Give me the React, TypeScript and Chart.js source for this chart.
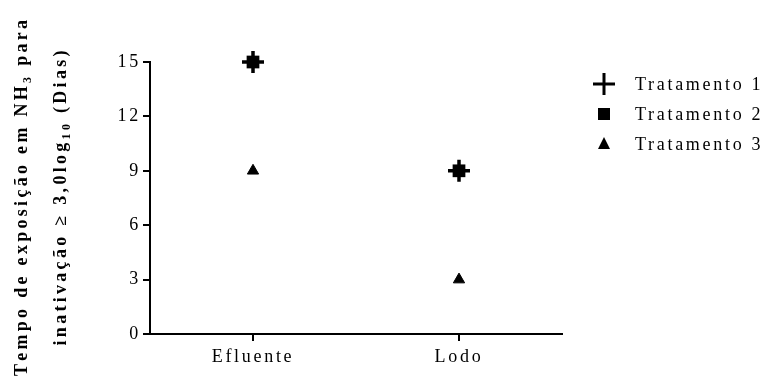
import React, { useEffect, useRef } from 'react';
import { Chart, registerables } from 'chart.js';

Chart.register(...registerables);

// Data
const categories = ['Efluente', 'Lodo'];
const seriesNames = ['Tratamento 1', 'Tratamento 2', 'Tratamento 3'];
const tratamento1 = [15, 9];
const tratamento2 = [15, 9];
const tratamento3 = [9, 3];
const yTicks = [0, 3, 6, 9, 12, 15];

// Axis title, split into runs so the subscripts can be drawn smaller and lower
const titleLine1 = [
  { text: 'Tempo de exposição em NH', sub: false },
  { text: '3', sub: true },
  { text: ' para', sub: false },
];
const titleLine2 = [
  { text: 'inativação ≥ 3,0log', sub: false },
  { text: '10', sub: true },
  { text: ' (Dias)', sub: false },
];

const FONT = '"Liberation Serif", "Times New Roman", serif';
const SPACING = 2.7;

type Run = { text: string; sub: boolean };

function runWidth(ctx: CanvasRenderingContext2D, runs: Run[], size: number, subSize: number, sp: number) {
  let w = 0;
  for (const r of runs) {
    ctx.font = `bold ${r.sub ? subSize : size}px ${FONT}`;
    for (const ch of r.text) w += ctx.measureText(ch).width + sp;
  }
  return w - sp;
}

function drawRuns(
  ctx: CanvasRenderingContext2D,
  runs: Run[],
  x: number,
  y: number,
  size: number,
  subSize: number,
  sp: number
) {
  let cx = x;
  for (const r of runs) {
    ctx.font = `bold ${r.sub ? subSize : size}px ${FONT}`;
    for (const ch of r.text) {
      ctx.fillText(ch, cx, r.sub ? y + 4 : y);
      cx += ctx.measureText(ch).width + sp;
    }
  }
}

const spacingPlugin = {
  id: 'letterSpacing',
  beforeDraw(chart: any) {
    (chart.ctx as any).letterSpacing = `${SPACING}px`;
  },
};

const titlePlugin = {
  id: 'yTitle',
  afterDraw(chart: any) {
    const ctx: CanvasRenderingContext2D = chart.ctx;
    const { top, bottom } = chart.chartArea;
    const mid = (top + bottom) / 2;
    ctx.save();
    (ctx as any).letterSpacing = '0px';
    ctx.fillStyle = '#000';
    ctx.textBaseline = 'alphabetic';
    ctx.textAlign = 'left';
    ctx.rotate(-Math.PI / 2);
    const size = 18;
    const subSize = 12;
    const sp = 3.3;
    const w1 = runWidth(ctx, titleLine1, size, subSize, sp);
    drawRuns(ctx, titleLine1, -mid - w1 / 2, 27, size, subSize, sp);
    const w2 = runWidth(ctx, titleLine2, size, subSize, sp);
    drawRuns(ctx, titleLine2, -mid - w2 / 2, 66, size, subSize, sp);
    ctx.restore();
  },
};

const legendPlugin = {
  id: 'sideLegend',
  afterDraw(chart: any) {
    const ctx: CanvasRenderingContext2D = chart.ctx;
    const mx = 604;
    const tx = 635;
    const rowY = [84, 114, 144];
    ctx.save();
    ctx.fillStyle = '#000';
    ctx.strokeStyle = '#000';
    chart.data.datasets.forEach((ds: any, i: number) => {
      const y = rowY[i];
      if (ds.pointStyle === 'cross') {
        ctx.lineWidth = 3;
        ctx.beginPath();
        ctx.moveTo(mx - 11, y);
        ctx.lineTo(mx + 11, y);
        ctx.moveTo(mx, y - 11);
        ctx.lineTo(mx, y + 11);
        ctx.stroke();
      } else if (ds.pointStyle === 'rect') {
        ctx.fillRect(mx - 6, y - 6, 12, 12);
      } else {
        ctx.beginPath();
        ctx.moveTo(mx, y - 7);
        ctx.lineTo(mx + 6, y + 5);
        ctx.lineTo(mx - 6, y + 5);
        ctx.closePath();
        ctx.fill();
      }
      (ctx as any).letterSpacing = `${SPACING}px`;
      ctx.font = `18px ${FONT}`;
      ctx.textAlign = 'left';
      ctx.textBaseline = 'middle';
      ctx.fillText(ds.label, tx, y + 1);
    });
    ctx.restore();
  },
};

export default function App() {
  const canvasRef = useRef<HTMLCanvasElement | null>(null);

  useEffect(() => {
    document.body.style.margin = '0';
    const canvas = canvasRef.current;
    if (!canvas) return;

    const pointBase = {
      backgroundColor: '#000',
      borderColor: '#000',
      showLine: false,
      clip: false as any,
    };

    const chart = new Chart(canvas, {
      type: 'line',
      data: {
        labels: categories,
        datasets: [
          {
            ...pointBase,
            label: seriesNames[0],
            data: tratamento1,
            pointStyle: 'cross',
            pointRadius: 11,
            pointBorderWidth: 3.5,
          },
          {
            ...pointBase,
            label: seriesNames[1],
            data: tratamento2,
            pointStyle: 'rect',
            pointRadius: 9,
            pointBorderWidth: 0,
          },
          {
            ...pointBase,
            label: seriesNames[2],
            data: tratamento3,
            pointStyle: 'triangle',
            pointRadius: 6.5,
            pointBorderWidth: 1,
          },
        ],
      },
      options: {
        responsive: false,
        animation: false,
        devicePixelRatio: 1,
        layout: { padding: { left: 0, top: 62, right: 208, bottom: 0 } },
        plugins: {
          legend: { display: false },
          tooltip: { enabled: false },
        },
        scales: {
          x: {
            type: 'category',
            offset: true,
            grid: {
              offset: false,
              drawOnChartArea: false,
              drawTicks: true,
              tickLength: 7,
              tickWidth: 2,
              color: '#000',
              lineWidth: 2,
            },
            border: { display: true, color: '#000', width: 2 },
            ticks: {
              color: '#000',
              font: { family: FONT, size: 18 },
              padding: 5,
              maxRotation: 0,
            },
            afterFit(scale: any) {
              scale.height = 49;
            },
          },
          y: {
            type: 'linear',
            min: 0,
            max: 15,
            afterBuildTicks(scale: any) {
              scale.ticks = yTicks.map((v) => ({ value: v }));
            },
            grid: {
              drawOnChartArea: false,
              drawTicks: true,
              tickLength: 7,
              tickWidth: 2,
              color: '#000',
              lineWidth: 2,
            },
            border: { display: true, color: '#000', width: 2 },
            ticks: {
              color: '#000',
              font: { family: FONT, size: 18 },
              padding: 2,
            },
            afterFit(scale: any) {
              scale.width = 150;
            },
          },
        },
      },
      plugins: [spacingPlugin, titlePlugin, legendPlugin],
    } as any);

    return () => chart.destroy();
  }, []);

  return (
    <canvas
      ref={canvasRef}
      width={770}
      height={383}
      style={{ display: 'block', width: 770, height: 383 }}
    />
  );
}
